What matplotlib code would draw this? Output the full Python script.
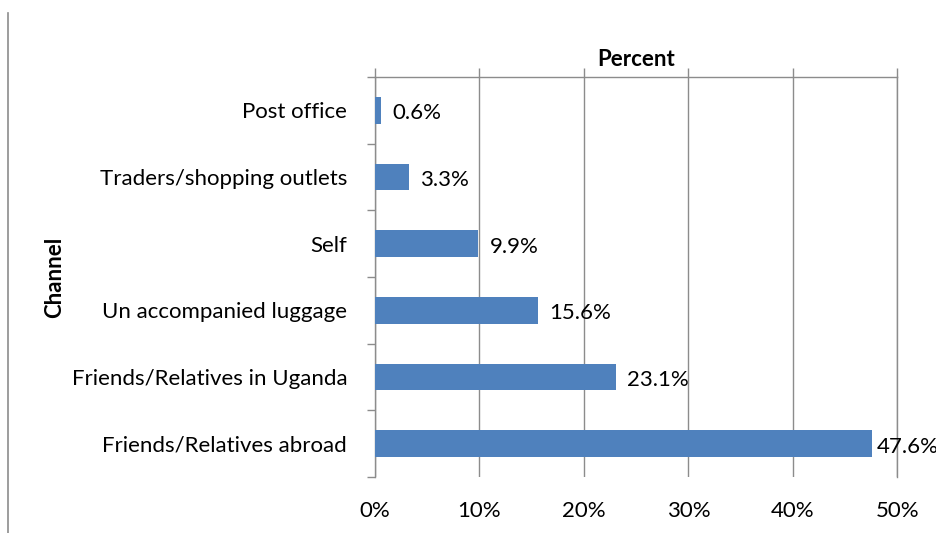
import numpy as np
import matplotlib
matplotlib.use("Agg")
import matplotlib.pyplot as plt
from matplotlib.lines import Line2D

plt.rcParams["font.family"] = ["Lato", "DejaVu Sans"]

channels = [
    "Post office",
    "Traders/shopping outlets",
    "Self",
    "Un accompanied luggage",
    "Friends/Relatives in Uganda",
    "Friends/Relatives abroad",
]
percent = [0.6, 3.3, 9.9, 15.6, 23.1, 47.6]

BAR_COLOR = "#4F81BD"
GRID_COLOR = "#8C8C8C"
FS = 16

W, H = 937, 533
fig = plt.figure(figsize=(W / 100, H / 100), dpi=100)
ax = fig.add_axes([375 / W, 1 - 477 / H, 522.5 / W, 400 / H])

y = np.arange(len(channels))
ax.barh(y, percent, height=0.4, color=BAR_COLOR, zorder=3)

# value labels to the right of each bar
for yi, v in zip(y, percent):
    off = 4 if v > 45 else 11
    ax.annotate(f"{v:.1f}%", (v, yi), xytext=(off, -3), textcoords="offset pixels",
                ha="left", va="center", fontsize=FS, color="#000000", zorder=4)

ax.set_xlim(0, 50)
ax.set_ylim(len(channels) - 0.5, -0.5)

ax.set_xticks(np.arange(0, 51, 10))
ax.set_xticklabels([f"{t}%" for t in range(0, 51, 10)], fontsize=FS)
ax.tick_params(axis="x", top=True, bottom=False, labeltop=False, labelbottom=True,
               direction="out", length=6.5, width=1.0, color=GRID_COLOR, pad=11)
ax.grid(axis="x", color=GRID_COLOR, linewidth=1.0, zorder=0)

ax.set_yticks(y)
ax.set_yticklabels(channels, fontsize=FS)
ax.set_yticks(np.arange(-0.5, len(channels), 1), minor=True)
ax.tick_params(axis="y", which="major", length=0, pad=20)
ax.tick_params(axis="y", which="minor", length=5.8, width=1.0, color=GRID_COLOR, direction="out")

ax.spines["bottom"].set_visible(False)
for side in ("top", "left", "right"):
    ax.spines[side].set_color(GRID_COLOR)
    ax.spines[side].set_linewidth(1.0)

fig.text(636 / W, 1 - 60 / H, "Percent", ha="center", va="center",
         fontsize=FS, fontweight="bold")
fig.text(55 / W, 1 - 277 / H, "Channel", ha="center", va="center",
         rotation=90, fontsize=FS, fontweight="bold")

# thin vertical rule along the left edge
fig.add_artist(Line2D([8.5 / W, 8.5 / W], [0, 1 - 13 / H], color="#8C8C8C",
                      linewidth=1.2, transform=fig.transFigure))

fig.savefig("out.png", dpi=100)
